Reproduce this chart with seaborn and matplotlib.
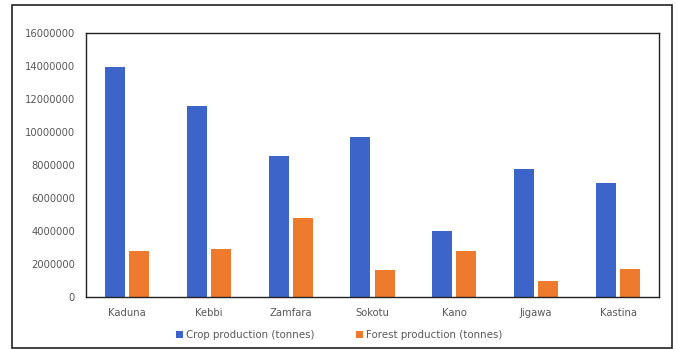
import matplotlib
matplotlib.use("Agg")
import matplotlib.pyplot as plt
import seaborn as sns
import pandas as pd
from matplotlib.patches import Rectangle
from matplotlib.ticker import FixedLocator, FuncFormatter

states = ["Kaduna", "Kebbi", "Zamfara", "Sokotu", "Kano", "Jigawa", "Kastina"]
crop = [13940000, 11560000, 8550000, 9700000, 3980000, 7760000, 6910000]
forest = [2770000, 2910000, 4770000, 1660000, 2790000, 970000, 1680000]
series_names = ["Crop production (tonnes)", "Forest production (tonnes)"]
yticks = [0, 2000000, 4000000, 6000000, 8000000, 10000000, 12000000, 14000000, 16000000]

df = pd.DataFrame({
    "State": states * 2,
    "Value": crop + forest,
    "Series": [series_names[0]] * len(states) + [series_names[1]] * len(states),
})

sns.set_theme(style="white")
plt.rcParams['font.family'] = ['DejaVu Sans']

fig = plt.figure(figsize=(6.78, 3.49), dpi=100)
ax = fig.add_axes([0.1268, 0.149, 0.972 - 0.1268, 0.9054 - 0.149])

palette = {series_names[0]: "#3D64C8", series_names[1]: "#EE7A2E"}
sns.barplot(data=df, x="State", y="Value", hue="Series", palette=palette,
            width=0.59, gap=0.17, ax=ax, saturation=1, legend=True, linewidth=0)

ax.set_ylim(0, 16000000)
ax.set_xlim(-0.5, len(states) - 0.5)
ax.yaxis.set_major_locator(FixedLocator(yticks))
ax.yaxis.set_major_formatter(FuncFormatter(lambda v, p: f"{int(v)}"))
ax.set_xlabel("")
ax.set_ylabel("")
ax.tick_params(axis="both", labelsize=7.2, colors="#595959", length=0, pad=8)
for s in ax.spines.values():
    s.set_visible(True)
    s.set_color("#222222")
    s.set_linewidth(1.0)

handles, labels = ax.get_legend_handles_labels()
ax.legend_.remove()
fig.legend(handles, labels, loc="center", bbox_to_anchor=(0.5, 1 - 335 / 349), ncol=2,
           frameon=False, fontsize=7.4, handlelength=0.7, handleheight=0.7,
           handletextpad=0.3, columnspacing=4.0, labelcolor="#595959")

fig.patches.append(Rectangle((12 / 678, 1 / 349), (672 - 12) / 678, (344 - 1) / 349,
                             transform=fig.transFigure, fill=False,
                             edgecolor="#222222", linewidth=1.2, zorder=0))

fig.savefig("out.png", dpi=100)
